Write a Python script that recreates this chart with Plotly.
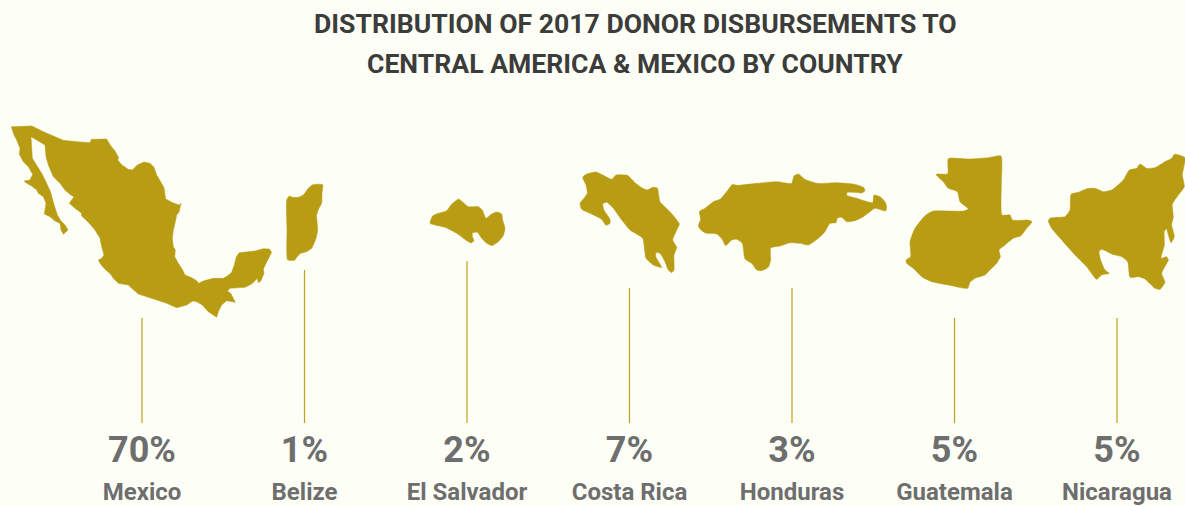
import plotly.graph_objects as go

title_lines = ["DISTRIBUTION OF 2017 DONOR DISBURSEMENTS TO", "CENTRAL AMERICA &amp; MEXICO BY COUNTRY"]
countries = ["Mexico", "Belize", "El Salvador", "Costa Rica", "Honduras", "Guatemala", "Nicaragua"]
percent = [70, 1, 2, 7, 3, 5, 5]
centers = [142, 304.5, 467, 629.5, 792, 954.5, 1117]
leader_top = [318, 270, 261, 288, 288, 318, 318]

GOLD = "#B89C14"
BG = "#FDFFF7"
GREY = "#6E6E6E"
DARK = "#3C3C3A"

# Country silhouettes, in 3x map units with an origin
mexico = [(34,35),(96,33),(130,50),(190,76),(230,80),(270,83),(274,73),(320,72),(332,92),(345,108),(356,128),(353,135),(366,150),(385,163),(397,165),(412,150),(432,141),(450,145),(462,157),(470,180),(482,200),(492,218),(497,252),(520,264),(538,270),(543,265),(537,292),(530,300),(525,325),(520,345),(517,370),(520,395),(526,405),(524,425),(535,445),(548,465),(555,480),(575,488),(590,497),(596,505),(612,497),(640,490),(670,490),(683,482),(695,472),(703,450),(709,425),(718,413),(765,408),(790,401),(808,402),(815,412),(803,435),(795,450),(790,462),(792,475),(783,497),(775,503),(772,490),(755,507),(735,517),(690,520),(682,528),(692,535),(706,562),(680,557),(665,570),(655,590),(650,607),(625,590),(607,570),(590,560),(578,558),(560,570),(530,578),(500,565),(470,555),(440,545),(415,537),(395,520),(385,510),(355,505),(340,490),(332,478),(312,460),(300,445),(295,435),(305,430),(312,420),(305,395),(300,370),(285,345),(265,322),(245,303),(245,295),(225,280),(208,265),(222,245),(212,240),(195,225),(180,205),(160,185),(145,150),(138,125),(135,90),(110,75),(93,65),(97,130),(110,150),(125,175),(140,205),(152,232),(160,262),(172,300),(183,318),(195,330),(204,345),(190,358),(183,345),(180,325),(165,318),(150,305),(133,297),(138,265),(130,245),(115,235),(110,225),(95,213),(80,205),(72,198),(90,195),(98,178),(85,155),(70,140),(58,118),(60,100),(50,75),(42,60)]
belize = [(50,90),(58,78),(68,82),(85,82),(100,75),(115,55),(128,44),(158,44),(156,70),(155,100),(147,115),(140,135),(143,180),(138,205),(125,235),(110,245),(92,250),(80,262),(75,270),(53,270),(51,180)]
el_salvador = [(480,160),(488,138),(505,130),(530,122),(545,103),(566,87),(580,98),(595,110),(625,110),(637,120),(648,145),(665,132),(680,126),(695,132),(698,150),(705,175),(700,197),(685,215),(665,227),(650,220),(635,205),(622,187),(608,188),(607,200),(612,212),(603,219),(590,212),(560,190),(525,172)]
costa_rica = [(38,52),(50,42),(78,36),(100,46),(125,58),(138,45),(172,46),(195,68),(218,85),(232,90),(248,82),(262,84),(270,125),(300,155),(328,192),(318,215),(308,240),(320,262),(312,285),(312,330),(305,338),(295,330),(285,305),(270,280),(258,278),(258,292),(270,312),(275,323),(250,315),(228,295),(218,235),(180,210),(155,180),(130,145),(110,127),(98,132),(102,150),(120,178),(120,190),(108,196),(95,178),(60,160),(35,148),(30,130),(42,115),(52,100),(48,75)]
honduras = [(388,155),(405,145),(430,125),(450,118),(470,95),(488,73),(500,76),(560,70),(620,65),(665,70),(672,48),(685,42),(705,58),(740,70),(800,68),(850,72),(880,82),(885,92),(875,99),(850,97),(832,97),(830,106),(860,115),(908,128),(912,105),(930,110),(945,125),(950,140),(947,153),(915,145),(900,155),(880,170),(855,182),(830,185),(815,172),(802,175),(798,188),(780,190),(765,215),(745,235),(715,255),(690,250),(660,248),(630,258),(602,264),(602,300),(595,322),(575,332),(560,330),(545,310),(525,297),(517,250),(500,238),(485,240),(467,257),(455,235),(440,222),(410,220),(395,212),(385,198),(392,178)]
guatemala = [(160,41),(220,42),(280,38),(318,33),(319,120),(321,210),(345,210),(352,225),(375,226),(400,225),(411,230),(395,250),(378,272),(355,280),(330,300),(312,315),(316,335),(305,355),(280,380),(270,390),(240,400),(225,412),(218,430),(160,420),(110,410),(80,395),(55,370),(35,355),(33,345),(47,335),(45,290),(60,250),(90,212),(115,198),(160,198),(205,198),(220,192),(195,170),(187,140),(160,130),(145,110),(123,88),(158,86)]
nicaragua = [(460,228),(465,220),(485,217),(510,215),(525,195),(528,148),(550,142),(580,130),(600,130),(625,140),(650,135),(685,105),(703,75),(725,70),(735,57),(755,70),(780,68),(810,50),(830,40),(838,28),(870,38),(862,90),(868,125),(850,150),(832,178),(835,215),(830,240),(838,275),(828,293),(820,270),(815,252),(808,258),(808,300),(798,340),(815,335),(820,345),(800,385),(810,412),(795,433),(780,430),(750,402),(730,395),(705,397),(698,350),(680,335),(650,327),(620,313),(612,320),(617,345),(630,375),(643,385),(620,390),(605,403),(575,365),(540,330),(500,285),(470,250)]

outlines = [
    (mexico, 0, 115, "linear"),
    (belize, 270, 170, "spline"),
    (el_salvador, 270, 170, "spline"),
    (costa_rica, 570, 160, "spline"),
    (honduras, 570, 160, "spline"),
    (guatemala, 895, 145, "spline"),
    (nicaragua, 895, 145, "spline"),
]

fig = go.Figure()
for name, (pts, ox, oy, shape) in zip(countries, outlines):
    closed = pts + [pts[0]]
    line = dict(color=GOLD, width=0.5, shape=shape)
    if shape == "spline":
        line["smoothing"] = 0.5
    fig.add_trace(go.Scatter(
        x=[ox + p[0] / 3 for p in closed], y=[oy + p[1] / 3 for p in closed],
        mode="lines", fill="toself", fillcolor=GOLD, line=line,
        name=name, hoverinfo="name",
    ))

for name, c, top in zip(countries, centers, leader_top):
    fig.add_trace(go.Scatter(x=[c, c], y=[top, 423], mode="lines",
                             line=dict(color="#BFA21A", width=1.2), hoverinfo="skip"))

fig.add_trace(go.Scatter(x=centers, y=[453] * 7, mode="text",
                         text=[f"{p}%" for p in percent],
                         textfont=dict(family="Roboto", size=36, color=GREY, weight=700),
                         textposition="middle center", hoverinfo="skip"))
fig.add_trace(go.Scatter(x=centers, y=[494] * 7, mode="text",
                         text=countries,
                         textfont=dict(family="Roboto", size=24, color=GREY, weight=700),
                         textposition="middle center", hoverinfo="skip"))

for text, y in zip(title_lines, [23, 63]):
    fig.add_annotation(text=text, x=635, y=y, xref="x", yref="y", showarrow=False,
                       xanchor="center", yanchor="middle",
                       font=dict(family="Roboto", size=26.6, color=DARK, weight=700))

fig.update_layout(
    width=1185, height=506, margin=dict(l=0, r=0, t=0, b=0),
    paper_bgcolor=BG, plot_bgcolor=BG, showlegend=False,
    xaxis=dict(range=[0, 1185], visible=False, fixedrange=True),
    yaxis=dict(range=[506, 0], visible=False, fixedrange=True),
)
fig.write_html("out.html", config={"displayModeBar": False},
               post_script="document.body.style.margin='0';document.body.style.overflow='hidden';document.body.style.background='#FDFFF7';")
